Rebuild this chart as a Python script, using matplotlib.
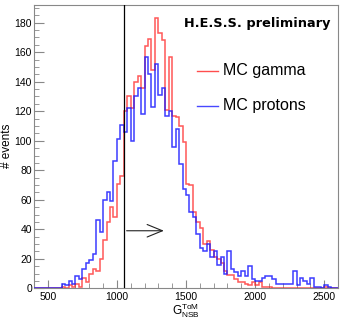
import numpy as np
import matplotlib
matplotlib.use("Agg")
import matplotlib.pyplot as plt

# histogram bins (width 25) from 400 to 2600
bin_edges = np.arange(400, 2625, 25)

# MC gamma, counts per bin (first bin starts at 400)
gamma = [0, 0, 0, 0, 0, 0, 0, 0,
         1, 0, 2, 1, 3, 1, 7, 4, 10, 13, 12, 20, 33, 45, 55, 48,
         71, 76, 120, 130, 122, 140, 144, 136, 164, 169, 148, 183, 173, 168, 121, 157,
         117, 116, 110, 99, 71, 70, 52, 45, 41, 30, 32, 26, 21, 20, 17, 12,
         9, 9, 6, 4, 4, 3, 2, 4, 2, 4, 1, 1, 1, 0, 0, 0,
         0, 0, 0, 0, 0, 0, 0, 0, 0, 0, 0, 0, 1, 0, 0, 0]

# MC protons
protons = [0, 0, 0, 0, 0, 0, 0, 0,
           3, 2, 5, 3, 8, 6, 13, 17, 19, 23, 46, 38, 60, 65, 59, 86,
           101, 111, 106, 122, 100, 130, 136, 118, 157, 145, 123, 152, 131, 136, 117, 120,
           96, 108, 84, 67, 63, 52, 48, 37, 27, 25, 30, 21, 25, 16, 21, 10,
           25, 13, 11, 8, 12, 8, 15, 6, 5, 5, 7, 8, 8, 6, 3, 3,
           3, 3, 3, 12, 2, 7, 5, 3, 7, 1, 1, 0, 2, 1, 0, 0]

cut_value = 1050

W, H = 341, 321
fig = plt.figure(figsize=(W / 100, H / 100), dpi=100)
ax = fig.add_axes([34 / W, (H - 288.3) / H, 304 / W, 283.3 / H])

ax.stairs(protons, bin_edges, color="#1a1aff", lw=1.1, alpha=0.85, zorder=3)
ax.stairs(gamma, bin_edges, color="#ff2020", lw=1.1, alpha=0.75, zorder=2)

ax.axvline(cut_value, color="black", lw=0.9, zorder=4)
ax.annotate("", xy=(1360, 39), xytext=(cut_value, 39),
            arrowprops=dict(arrowstyle="->,head_length=1.1,head_width=0.45",
                            color="#222222", lw=0.8), zorder=4)

ax.set_xlim(400, 2600)
ax.set_ylim(0, 192)
ax.set_xticks([500, 1000, 1500, 2000, 2500])
ax.set_xticks(np.arange(500, 2600, 100), minor=True)
ax.set_yticks(np.arange(0, 181, 20))
ax.set_yticks(np.arange(0, 191, 5), minor=True)

for s in ax.spines.values():
    s.set_color("#888888")
    s.set_linewidth(0.8)

ax.tick_params(axis="both", which="both", direction="in", colors="#888888",
               labelcolor="black", labelsize=7.5, top=False, right=False)
ax.tick_params(axis="x", which="major", length=6, pad=3)
ax.tick_params(axis="x", which="minor", length=3.5)
ax.tick_params(axis="y", which="major", length=7, pad=1.5)
ax.tick_params(axis="y", which="minor", length=3.5)
for lab in ax.get_xticklabels() + ax.get_yticklabels():
    lab.set_family("Liberation Sans")

fig.text(7 / W, 1 - 146 / H, "# events", rotation=90, ha="center", va="center",
         fontsize=8.5, family="Liberation Sans")
fig.text(186 / W, 1 - 310.5 / H, r"$\mathregular{G_{NSB}^{ToM}}$", ha="center",
         va="center", fontsize=8.5, family="Liberation Sans")

fig.text(330 / W, 1 - 23 / H, "H.E.S.S. preliminary", ha="right", va="center",
         fontsize=9.3, fontweight="bold", family="DejaVu Sans")

# legend
for yy, col, txt in [(71, "#ff2020", "MC gamma"), (105.5, "#1a1aff", "MC protons")]:
    fig.add_artist(plt.Line2D([197 / W, 218 / W], [1 - yy / H, 1 - yy / H], color=col,
                              lw=1.0, alpha=0.8))
    fig.text(223 / W, 1 - yy / H, txt, ha="left", va="center", fontsize=11.5,
             family="Liberation Sans")

fig.savefig("out.png", dpi=100)
